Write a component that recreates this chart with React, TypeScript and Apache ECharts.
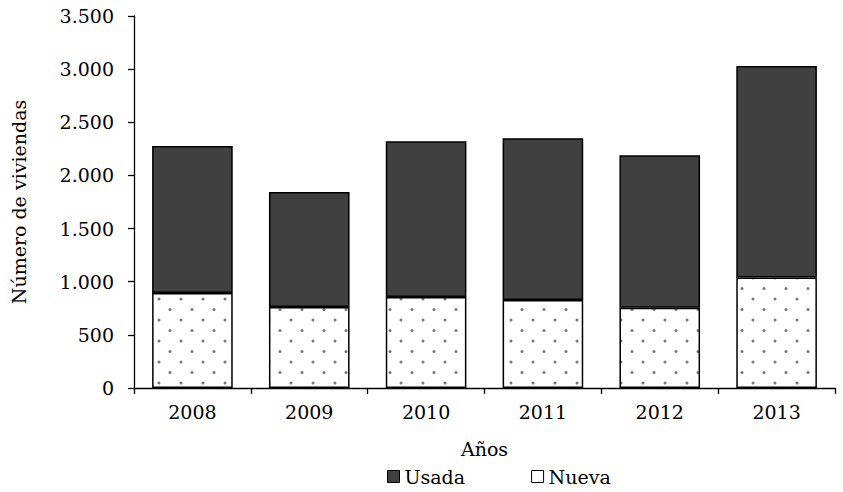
import React, { useEffect, useRef } from "react";
import * as echarts from "echarts";

const years = ["2008", "2009", "2010", "2011", "2012", "2013"];
const nueva = [893, 762, 856, 828, 755, 1040];
const usada = [1385, 1082, 1465, 1522, 1435, 1990];
const yTicks = [0, 500, 1000, 1500, 2000, 2500, 3000, 3500];

const FONT = "DejaVu Serif";
const FS = 19;

function fmt(v: number) {
  return String(v).replace(/\B(?=(\d{3})+(?!\d))/g, ".");
}

function makeDots(): HTMLCanvasElement {
  const c = document.createElement("canvas");
  c.width = 22;
  c.height = 21;
  const ctx = c.getContext("2d")!;
  ctx.fillStyle = "#ffffff";
  ctx.fillRect(0, 0, 22, 21);
  ctx.fillStyle = "#777777";
  ctx.beginPath();
  ctx.arc(5, 5, 1.5, 0, Math.PI * 2);
  ctx.fill();
  ctx.beginPath();
  ctx.arc(16, 15.5, 1.5, 0, Math.PI * 2);
  ctx.fill();
  return c;
}

export default function App() {
  const ref = useRef<HTMLDivElement>(null);
  useEffect(() => {
    if (!ref.current) return;
    const chart = echarts.init(ref.current, null, { renderer: "svg" });
    const dots = makeDots();
    chart.setOption({
      animation: false,
      backgroundColor: "#ffffff",
      textStyle: { fontFamily: FONT },
      grid: { left: 134, right: 8, top: 16, bottom: 104 },
      legend: {
        bottom: 1,
        left: 382,
        icon: "rect",
        itemWidth: 12,
        itemHeight: 12,
        itemGap: 66,
        textStyle: { fontFamily: FONT, fontSize: FS, color: "#000" },
        data: [
          { name: "Usada", itemStyle: { color: "#404040", borderColor: "#000", borderWidth: 1 } },
          { name: "Nueva", itemStyle: { color: "#ffffff", borderColor: "#000", borderWidth: 1 } },
        ],
      },
      xAxis: {
        type: "category",
        data: years,
        name: "Años",
        nameLocation: "middle",
        nameGap: 51,
        nameTextStyle: { fontFamily: FONT, fontSize: FS, color: "#000" },
        axisLine: { lineStyle: { color: "#000", width: 1.3 } },
        axisTick: { show: true, length: 6, lineStyle: { color: "#000", width: 1.3 } },
        axisLabel: { fontFamily: FONT, fontSize: FS, color: "#000", margin: 14 },
      },
      yAxis: {
        type: "value",
        min: 0,
        max: 3500,
        interval: 500,
        name: "Número de viviendas",
        nameLocation: "middle",
        nameGap: 106,
        nameTextStyle: { fontFamily: FONT, fontSize: FS, color: "#000" },
        splitLine: { show: false },
        axisLine: { show: true, lineStyle: { color: "#000", width: 1.3 } },
        axisTick: { show: true, length: 6, lineStyle: { color: "#000", width: 1.3 } },
        axisLabel: {
          fontFamily: FONT,
          fontSize: FS,
          color: "#000",
          margin: 20,
          formatter: (v: number) => (yTicks.includes(v) ? fmt(v) : ""),
        },
      },
      series: [
        {
          name: "Nueva",
          type: "bar",
          stack: "t",
          data: nueva,
          barWidth: "69%",
          itemStyle: {
            color: { image: dots, repeat: "repeat" },
            borderColor: "#000",
            borderWidth: 1.5,
          },
        },
        {
          name: "Usada",
          type: "bar",
          stack: "t",
          data: usada,
          barWidth: "69%",
          itemStyle: { color: "#404040", borderColor: "#000", borderWidth: 1.5 },
        },
      ],
    });
    return () => chart.dispose();
  }, []);
  return <div ref={ref} style={{ width: 843, height: 492, position: "absolute", left: 0, top: 0 }} />;
}
